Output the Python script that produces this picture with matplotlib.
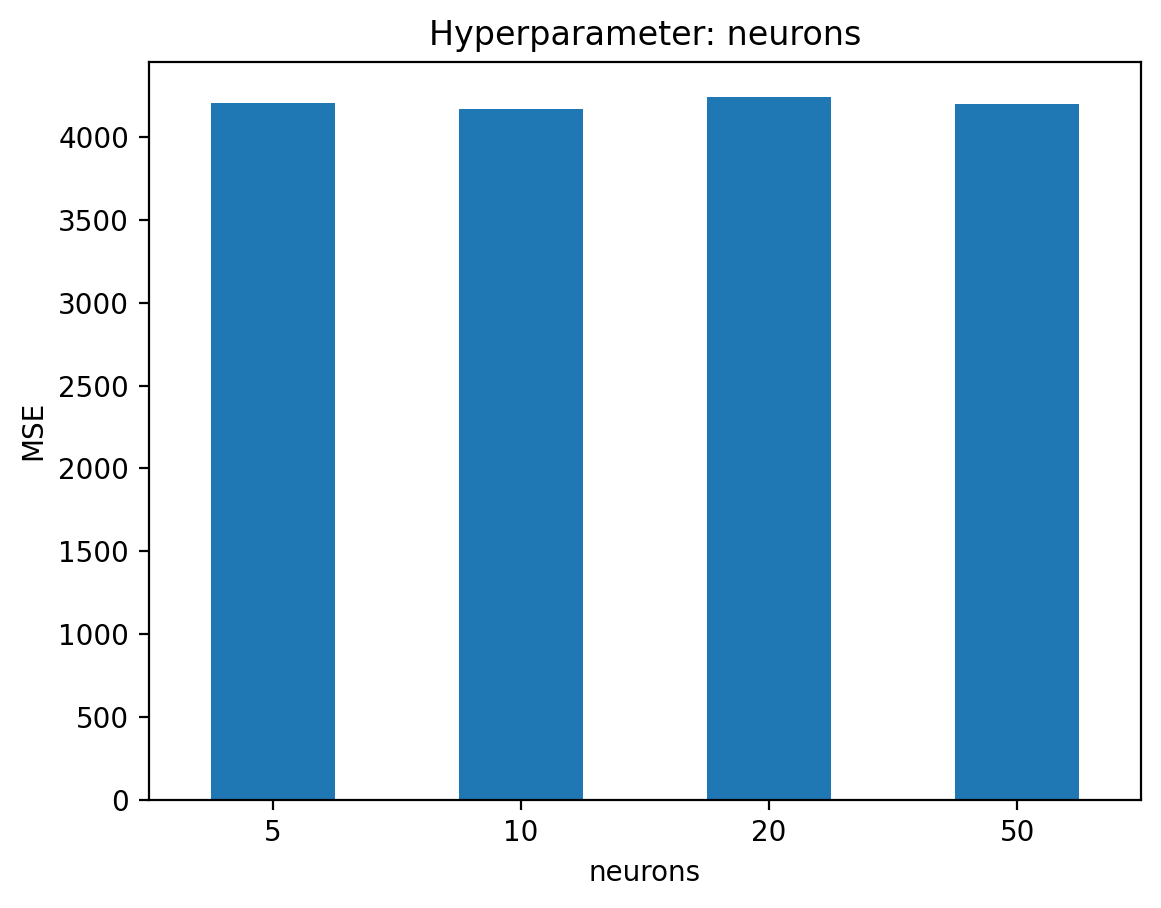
import matplotlib
matplotlib.use("Agg")
import matplotlib.pyplot as plt
import pandas

neurons = ['5', '10', '20', '50']
mse = [4205, 4169, 4241, 4199]

fig = plt.figure(figsize=(5.805, 4.54), dpi=200)
ax = fig.add_axes([0.128, 0.119, 0.855, 0.813])
pandas.Series(mse, index=neurons).plot.bar(ax=ax, color='#1f77b4', width=0.5, rot=0)
ax.set_title('Hyperparameter: neurons')
ax.set_xlabel('neurons')
ax.set_ylabel('MSE')
fig.savefig('out.png', dpi=200)
